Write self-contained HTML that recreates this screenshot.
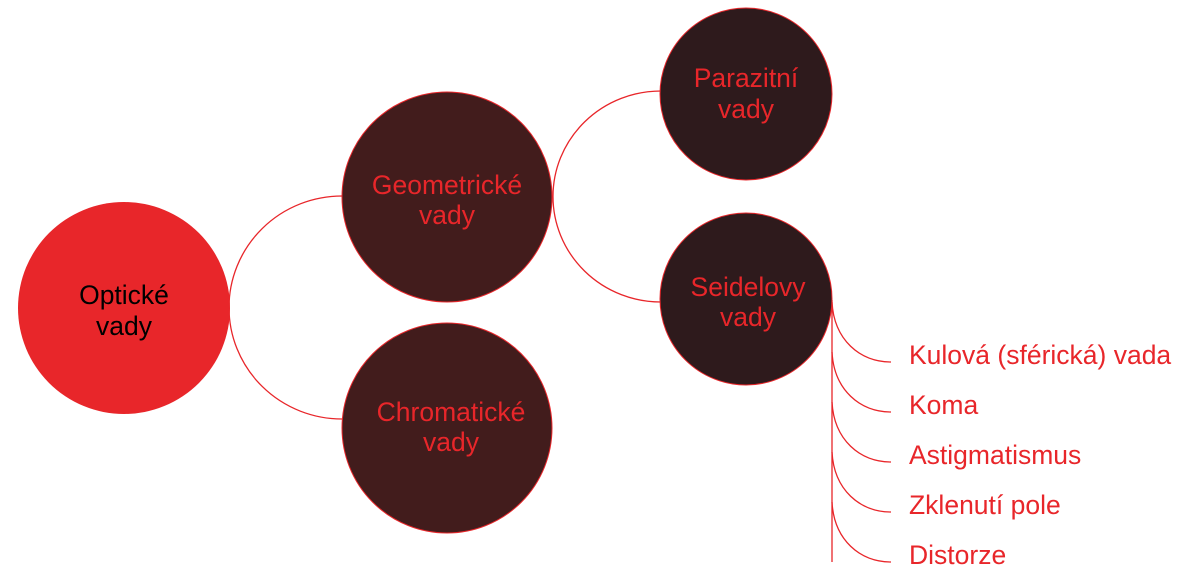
<!DOCTYPE html>
<html><head><meta charset="utf-8"><style>
body{margin:0;background:#fff}
svg{display:block}
text{font-family:"Liberation Sans",sans-serif;font-size:26.5px;text-anchor:middle}
.r{fill:#e8262a}
.l{text-anchor:start;fill:#e8262a}
</style></head><body>
<svg width="1200" height="571" viewBox="0 0 1200 571">
<g fill="none" stroke="#e8262a" stroke-width="1.3">
<path d="M342,196 A113,111.5 0 0 0 229,307.5 A113,111.5 0 0 0 342,419"/>
<path d="M661,91 A108,105.5 0 0 0 553,196.5 A108,105.5 0 0 0 661,302"/>
<path d="M832,300 V562"/>
<path d="M832,302 C834,340 860,362 891,362"/>
<path d="M832,352 C834,390 860,412 891,412"/>
<path d="M832,402 C834,440 860,462 891,462"/>
<path d="M832,452 C834,490 860,512 891,512"/>
<path d="M832,502 C834,540 860,562 891,562"/>
</g>
<circle cx="124" cy="308" r="106" fill="#e8262a"/>
<circle cx="447" cy="197" r="105" fill="#421c1c" stroke="#e8262a" stroke-width="1"/>
<circle cx="447" cy="428" r="105" fill="#421c1c" stroke="#e8262a" stroke-width="1"/>
<circle cx="746" cy="94" r="86" fill="#2e1a1c" stroke="#e8262a" stroke-width="1"/>
<circle cx="746" cy="299" r="86" fill="#2e1a1c" stroke="#e8262a" stroke-width="1"/>
<text x="124" y="304">Optické</text><text x="124" y="335">vady</text>
<text class="r" x="447" y="194">Geometrické</text><text class="r" x="447" y="224">vady</text>
<text class="r" x="451" y="421">Chromatické</text><text class="r" x="451" y="451">vady</text>
<text class="r" x="746" y="87">Parazitní</text><text class="r" x="746" y="118">vady</text>
<text class="r" x="748" y="296">Seidelovy</text><text class="r" x="748" y="326">vady</text>
<text class="l" x="909" y="364">Kulová (sférická) vada</text>
<text class="l" x="909" y="414">Koma</text>
<text class="l" x="909" y="464">Astigmatismus</text>
<text class="l" x="909" y="514">Zklenutí pole</text>
<text class="l" x="909" y="564">Distorze</text>
</svg>
</body></html>
